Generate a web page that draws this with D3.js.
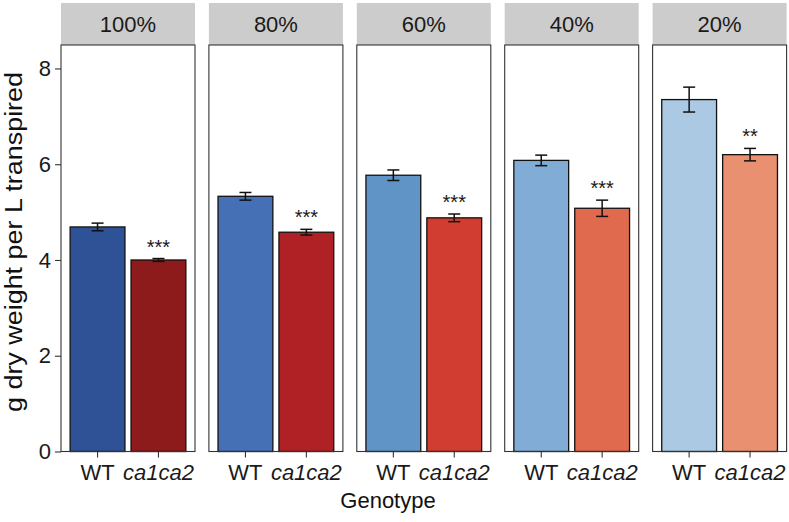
<!DOCTYPE html>
<html><head><meta charset="utf-8">
<script src="https://cdn.jsdelivr.net/npm/d3@7"></script>
<style>body{margin:0;background:#fff}svg{display:block}</style>
</head><body><svg id="c" width="789" height="522"></svg>
<script>
const panels = ["100%","80%","60%","40%","20%"];
const genotypes = ["WT","ca1ca2"];
const wtMean = [4.69, 5.33, 5.77, 6.08, 7.35];
const wtSE = [0.08, 0.08, 0.11, 0.11, 0.26];
const mutMean = [4.00, 4.58, 4.88, 5.08, 6.20];
const mutSE = [0.03, 0.06, 0.08, 0.17, 0.13];
const stars = ["***","***","***","***","**"];
const wtColors = ["#2f5196","#4570b6","#6093c6","#80acd5","#abc9e2"];
const mutColors = ["#8d1b1c","#b02125","#d23d31","#e06a4e","#e8906f"];
const yTicks = [0,2,4,6,8];

(function(){
const svg = d3.select("#c");
const font = "'Liberation Sans', Arial, Helvetica, sans-serif";
const pTop = 45, pBottom = 451.5;
const y = d3.scaleLinear().domain([0, 8.49]).range([pBottom, pTop]);
const panelLeft = 61, panelW = 134, gap = 13.9;
const px = d3.scaleBand().domain(panels).range([panelLeft, panelLeft + 5*panelW + 4*gap]).paddingInner(gap/(panelW+gap)).paddingOuter(0);

const yAxis = svg.append("g").attr("transform", `translate(${panelLeft},0)`)
  .call(d3.axisLeft(y).tickValues(yTicks).tickSize(6).tickPadding(4));
yAxis.select(".domain").remove();
yAxis.selectAll(".tick line").attr("stroke","#333").attr("stroke-width",1.1);
yAxis.selectAll(".tick text").attr("font-family",font).attr("font-size",22).attr("fill","#1a1a1a");

svg.append("text").attr("transform",`translate(22,242) rotate(-90)`)
  .attr("text-anchor","middle").attr("font-family",font).attr("font-size",23).attr("fill","#111")
  .attr("textLength",340).attr("lengthAdjust","spacingAndGlyphs")
  .text("g dry weight per L transpired");

panels.forEach((p,i)=>{
  const x0 = px(p), w = px.bandwidth();
  const g = svg.append("g");
  g.append("rect").attr("x",x0).attr("y",3).attr("width",w).attr("height",pTop-3).attr("fill","#cccccc");
  g.append("text").attr("x",x0+w/2).attr("y",32).attr("text-anchor","middle")
    .attr("font-family",font).attr("font-size",22).attr("fill","#1a1a1a").text(p);
  g.append("rect").attr("x",x0).attr("y",pTop).attr("width",w).attr("height",pBottom-pTop).attr("fill","#fff");
  const xb = d3.scaleBand().domain(genotypes).range([x0, x0+w]).paddingInner(0.1).paddingOuter(0.15);
  const data = [
    {g:"WT", m:wtMean[i], se:wtSE[i], c:wtColors[i]},
    {g:"ca1ca2", m:mutMean[i], se:mutSE[i], c:mutColors[i], s:stars[i]}
  ];
  g.selectAll(".bar").data(data).join("rect")
    .attr("x",d=>xb(d.g)).attr("width",xb.bandwidth())
    .attr("y",d=>y(d.m)).attr("height",d=>y(0)-y(d.m))
    .attr("fill",d=>d.c).attr("stroke","#111").attr("stroke-width",1.3);
  data.forEach(d=>{
    const cx = xb(d.g)+xb.bandwidth()/2;
    const e = g.append("g").attr("stroke","#111").attr("stroke-width",1.5);
    e.append("line").attr("x1",cx).attr("x2",cx).attr("y1",y(d.m+d.se)).attr("y2",y(d.m-d.se));
    e.append("line").attr("x1",cx-6).attr("x2",cx+6).attr("y1",y(d.m+d.se)).attr("y2",y(d.m+d.se));
    e.append("line").attr("x1",cx-6).attr("x2",cx+6).attr("y1",y(d.m-d.se)).attr("y2",y(d.m-d.se));
    if(d.s){
      g.append("text").attr("x",cx).attr("y",y(d.m+d.se)-5).attr("text-anchor","middle")
        .attr("font-family",font).attr("font-size",20).attr("fill","#1a1a1a").text(d.s);
    }
  });
  g.append("rect").attr("x",x0).attr("y",pTop).attr("width",w).attr("height",pBottom-pTop)
    .attr("fill","none").attr("stroke","#333").attr("stroke-width",1.1);
  const xa = g.append("g").attr("transform",`translate(0,${pBottom})`)
    .call(d3.axisBottom(xb).tickSize(6).tickPadding(7));
  xa.select(".domain").remove();
  xa.selectAll(".tick line").attr("stroke","#333").attr("stroke-width",1.1);
  xa.selectAll(".tick text").attr("font-family",font).attr("font-size",22).attr("fill","#1a1a1a")
    .attr("font-style",d=>d==="ca1ca2"?"italic":"normal");
});

svg.append("text").attr("x",388).attr("y",508).attr("text-anchor","middle")
  .attr("font-family",font).attr("font-size",22).attr("fill","#111").text("Genotype");
})();
</script></body></html>
